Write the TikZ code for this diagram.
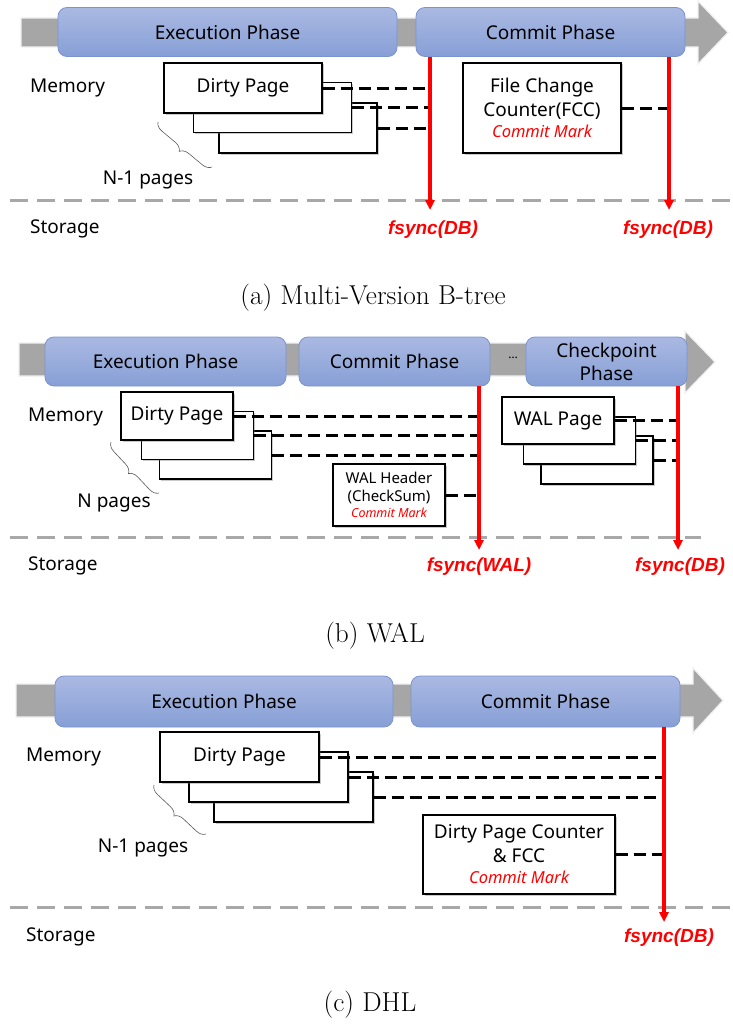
\documentclass[tikz,border=0pt]{standalone}
\usepackage{fontspec}
\newfontfamily\ksans{Noto Sans}
\newfontfamily\fsfont{Liberation Sans}
\usetikzlibrary{arrows.meta,shadows,decorations.pathreplacing}
\definecolor{bandgray}{HTML}{A6A6A6}
\definecolor{phtop}{HTML}{AAB9E2}
\definecolor{phbot}{HTML}{879FD6}
\definecolor{phborder}{HTML}{7C94CE}
\definecolor{sred}{HTML}{FF0000}
\definecolor{tipred}{HTML}{D00000}
\definecolor{lgray}{HTML}{A8A8A8}
\newcommand{\cmtext}[2][14]{{\color{sred}\itshape\fontsize{#1}{#1}\selectfont #2}}
\begin{document}
\begin{tikzpicture}[x=1pt,y=-1pt,
  band/.style={fill=bandgray, draw=black!6, line width=1.2pt},
  phase/.style={rounded corners=9pt, top color=phtop, bottom color=phbot, draw=phborder, line width=0.8pt, font=\ksans\fontsize{19}{22}\selectfont, inner sep=0pt, align=center, minimum height=49pt},
  lbl/.style={font=\ksans\fontsize{19}{22}\selectfont, inner sep=0pt},
  page/.style={draw=black, fill=white, line width=1.2pt, drop shadow={shadow xshift=1.5pt, shadow yshift=-1.5pt, opacity=0.35, fill=black!60}, font=\ksans\fontsize{19}{24}\selectfont, inner sep=0pt, align=center},
  fs/.style={font=\fsfont\bfseries\itshape\fontsize{19}{22}\selectfont, text=sred, inner sep=0pt},
  dline/.style={draw=black, line width=3pt, dash pattern=on 12pt off 6pt},
  sline/.style={draw=lgray, line width=3pt, dash pattern=on 18pt off 9pt},
  sync/.style={draw=sred, line width=3.5pt, -{Triangle[width=9pt,length=10pt,fill=tipred]}},
  brc/.style={draw=black!65, line width=0.6pt, decorate, decoration={brace, amplitude=9pt}},
  captxt/.style={font=\fontsize{27.3}{30}\selectfont, inner sep=0pt}
]
\useasboundingbox (0,0) rectangle (733,1025);

% ================= (a) =================
\path[band] (21,18) -- (698,18) -- (698,1) -- (728,32.5) -- (698,64) -- (698,47) -- (21,47) -- cycle;
\node[phase, minimum width=339pt] (a-exec) at (227.5,32) {Execution Phase};
\node[phase, minimum width=269pt] (a-commit) at (550.5,32) {Commit Phase};
\node[lbl, anchor=west] (a-mem) at (30,88) {Memory};
\node[page, minimum width=158pt, minimum height=50pt] (a-p3) at (298,128) {};
\node[page, minimum width=158pt, minimum height=50pt] (a-p2) at (272.5,107.5) {};
\node[page, minimum width=158pt, minimum height=50pt] (a-p1) at (243,88) {Dirty Page};
\node[page, minimum width=158pt, minimum height=90pt] (a-fcc) at (542,108) {File Change\\Counter(FCC)\\[-3pt]\cmtext[16.5]{Commit Mark}};
\coordinate (a-s1) at (430,210);
\coordinate (a-s2) at (669,210);
\draw[dline] (a-p1.east) -- (a-p1.east -| a-s1);
\draw[dline] (a-p2.east) -- (a-p2.east -| a-s1);
\draw[dline] (a-p3.east) -- (a-p3.east -| a-s1);
\draw[dline] (a-fcc.east) -- (a-fcc.east -| a-s2);
\draw[sline] (10,200) -- (733,200);
\draw[sync] (a-commit.south -| a-s1) -- (a-s1);
\draw[sync] (a-commit.south -| a-s2) -- (a-s2);
\draw[brc] (212,167) -- (158,122);
\node[lbl] (a-n) at (148,180) {N-1 pages};
\node[lbl, anchor=west] (a-sto) at (30,229) {Storage};
\node[fs] (a-f1) at (433,230) {fsync(DB)};
\node[fs] (a-f2) at (668,230) {fsync(DB)};
\node[captxt] (a-cap) at (373,298) {(a) Multi-Version B-tree};

% ================= (b) =================
\path[band] (19,343) -- (685,343) -- (685,331) -- (715,362) -- (685,393) -- (685,376) -- (19,376) -- cycle;
\node[phase, minimum width=241pt] (b-exec) at (165.5,361.5) {Execution Phase};
\node[phase, minimum width=191pt] (b-commit) at (394.5,361.5) {Commit Phase};
\node[lbl, font=\ksans\fontsize{12}{12}\selectfont] (b-dots) at (513,358) {…};
\node[phase, minimum width=161pt, font=\ksans\fontsize{19}{23}\selectfont] (b-ckpt) at (606.5,361.5) {Checkpoint\\Phase};
\node[lbl, anchor=west] (b-mem) at (28,417) {Memory};
\node[page, minimum width=112pt, minimum height=48pt] (b-p3) at (215.5,455) {};
\node[page, minimum width=112pt, minimum height=48pt] (b-p2) at (197.5,435.5) {};
\node[page, minimum width=112pt, minimum height=48pt] (b-p1) at (177,416) {Dirty Page};
\node[page, minimum width=112pt, minimum height=62pt, font=\ksans\fontsize{15}{18}\selectfont] (b-hdr) at (389,495) {WAL Header\\(CheckSum)\\[-2pt]\cmtext[12.5]{Commit Mark}};
\node[page, minimum width=112pt, minimum height=48pt] (b-w3) at (597,460) {};
\node[page, minimum width=112pt, minimum height=47pt] (b-w2) at (579.5,440.5) {};
\node[page, minimum width=112pt, minimum height=47pt] (b-w1) at (558,420.5) {WAL Page};
\coordinate (b-s1) at (479,550);
\coordinate (b-s2) at (678,550);
\draw[dline] (b-p1.east) -- (b-p1.east -| b-s1);
\draw[dline] (b-p2.east) -- (b-p2.east -| b-s1);
\draw[dline] (b-p3.east) -- (b-p3.east -| b-s1);
\draw[dline] (b-hdr.east) -- (b-hdr.east -| b-s1);
\draw[dline] (b-w1.east) -- (b-w1.east -| b-s2);
\draw[dline] (b-w2.east) -- (b-w2.east -| b-s2);
\draw[dline] (b-w3.east) -- (b-w3.east -| b-s2);
\draw[sline] (10,537) -- (701,537);
\draw[sync] (b-commit.south -| b-s1) -- (b-s1);
\draw[sync] (b-ckpt.south -| b-s2) -- (b-s2);
\draw[brc] (159,493) -- (111,442);
\node[lbl] (b-n) at (114,503) {N pages};
\node[lbl, anchor=west] (b-sto) at (28,566) {Storage};
\node[fs] (b-f1) at (479,567) {fsync(WAL)};
\node[fs] (b-f2) at (680,567) {fsync(DB)};
\node[captxt] (b-cap) at (375,636) {(b) WAL};

% ================= (c) =================
\path[band] (16,684) -- (693,684) -- (693,668) -- (723,700.5) -- (693,733) -- (693,717) -- (16,717) -- cycle;
\node[phase, minimum width=338pt, minimum height=51pt] (c-exec) at (224,701.5) {Execution Phase};
\node[phase, minimum width=269pt, minimum height=51pt] (c-commit) at (545.5,701.5) {Commit Phase};
\node[lbl, anchor=west] (c-mem) at (26,757) {Memory};
\node[page, minimum width=159pt, minimum height=50pt] (c-p3) at (293.5,797) {};
\node[page, minimum width=159pt, minimum height=50pt] (c-p2) at (268.5,777) {};
\node[page, minimum width=159pt, minimum height=50pt] (c-p1) at (239.5,757) {Dirty Page};
\node[page, minimum width=192pt, minimum height=79pt] (c-cnt) at (519,854.5) {Dirty Page Counter\\\& FCC\\[-3pt]\cmtext[16.5]{Commit Mark}};
\coordinate (c-s1) at (664,922);
\draw[dline] (c-p1.east) -- (c-p1.east -| c-s1);
\draw[dline] (c-p2.east) -- (c-p2.east -| c-s1);
\draw[dline] (c-p3.east) -- (c-p3.east -| c-s1);
\draw[dline] (c-cnt.east) -- (c-cnt.east -| c-s1);
\draw[sline] (10,907) -- (733,907);
\draw[sync] (c-commit.south -| c-s1) -- (c-s1);
\draw[brc] (206,834) -- (154,785);
\node[lbl] (c-n) at (143,848) {N-1 pages};
\node[lbl, anchor=west] (c-sto) at (26,937) {Storage};
\node[fs] (c-f1) at (669,938) {fsync(DB)};
\node[captxt] (c-cap) at (370,1005) {(c) DHL};
\end{tikzpicture}
\end{document}
